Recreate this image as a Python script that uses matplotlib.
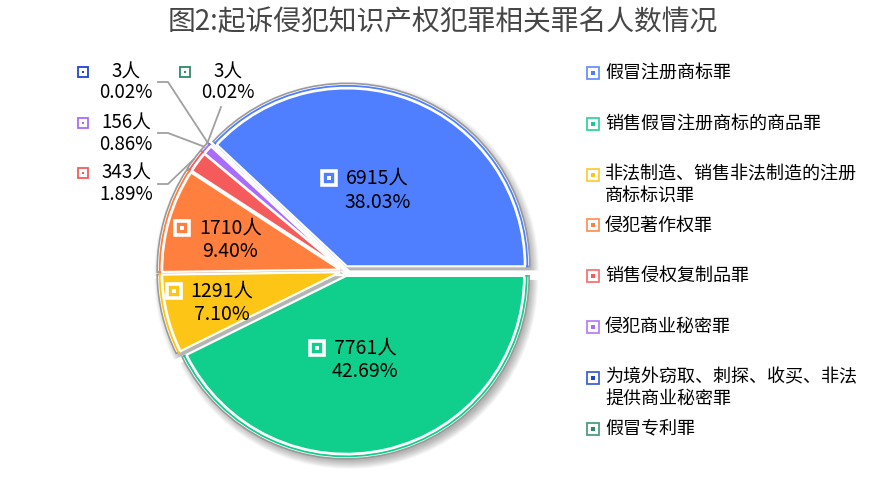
import numpy as np
import matplotlib
matplotlib.use('Agg')
import matplotlib.pyplot as plt

plt.rcParams['font.family'] = ['Noto Sans CJK SC', 'DejaVu Sans']

# data (legend order)
title = '图2:起诉侵犯知识产权犯罪相关罪名人数情况'
names = ['假冒注册商标罪',
         '销售假冒注册商标的商品罪',
         '非法制造、销售非法制造的注册\n商标标识罪',
         '侵犯著作权罪',
         '销售侵权复制品罪',
         '侵犯商业秘密罪',
         '为境外窃取、刺探、收买、非法\n提供商业秘密罪',
         '假冒专利罪']
counts = [6915, 7761, 1291, 1710, 343, 156, 3, 3]
colors = ['#4f7ffe', '#10ce8b', '#fdc516', '#ff803e',
          '#f65b5b', '#a96cfb', '#1f45cf', '#2e8b68']

# slice order, counter-clockwise from 3 o'clock
pie_order = [0, 6, 7, 5, 4, 3, 2, 1]

W, H = 875, 492
fig = plt.figure(figsize=(8.75, 4.92), dpi=100)
ax = fig.add_axes([0, 0, 1, 1])

cx, cy, R = 345, H - 271, 178
vals = [counts[i] for i in pie_order]
cols = [colors[i] for i in pie_order]
n = len(vals)
total = sum(counts)
expl = [5] * n

# soft shadow
for k in range(9):
    ax.pie(vals, radius=R + 3 + k, center=(cx + 3, cy - 4), startangle=0,
           explode=expl, colors=['black'] * n,
           wedgeprops=dict(alpha=0.035, linewidth=0))

# outer white ring with gray outline
ax.pie(vals, radius=R + 5, center=(cx, cy), startangle=0, explode=expl,
       colors=['white'] * n, wedgeprops=dict(edgecolor='#9a9a9a', linewidth=1.2))

# thin coloured outline
wedges, _ = ax.pie(vals, radius=R + 2.5, center=(cx, cy), startangle=0,
                   explode=expl, colors=['white'] * n,
                   wedgeprops=dict(linewidth=1.3))
for w, c in zip(wedges, cols):
    w.set_edgecolor(c)

# filled slices
ax.pie(vals, radius=R, center=(cx, cy), startangle=0, explode=expl,
       colors=cols, wedgeprops=dict(edgecolor='white', linewidth=1.6))

ax.set_xlim(0, W)
ax.set_ylim(0, H)
ax.set_aspect('equal')
ax.axis('off')

fig.text(443 / W, 1 - 22 / H, title, ha='center', va='center',
         fontsize=20, color='#464646')

renderer = fig.canvas.get_renderer()
theta = np.cumsum([0] + vals) / total * 2 * np.pi

# labels inside the big slices (radius fraction)
inner_r = {0: 0.5, 1: 0.5, 2: 0.71, 3: 0.67}
# labels outside the small slices: text centre, leader start points
outer = {6: dict(pos=(126, 72), lead=[(158, 82), (168, 82)]),
         7: dict(pos=(228, 72), lead=[(221, 107)]),
         5: dict(pos=(126, 123), lead=[(158, 133), (168, 133)]),
         4: dict(pos=(126, 173), lead=[(158, 184), (168, 184)])}

for j, i in enumerate(pie_order):
    mid = 0.5 * (theta[j] + theta[j + 1])
    line1 = f'{counts[i]}人'
    line2 = f'{counts[i] / total * 100:.2f}%'
    if i in inner_r:
        r = inner_r[i] * R
        lx = cx + r * np.cos(mid)
        ly = cy + r * np.sin(mid) - 2
        t = ax.text(lx, ly + 12, line1, ha='center', va='center',
                    fontsize=14, color='black')
        ax.text(lx, ly - 12, line2, ha='center', va='center',
                fontsize=14, color='black')
        w1 = t.get_window_extent(renderer).width
        ix = lx - w1 / 2 - 17
        ax.plot(ix, ly + 12, marker='s', ms=10, mfc='none', mec='white', mew=2.6)
        ax.plot(ix, ly + 12, marker='s', ms=2.5, mfc='white', mec='white', mew=0)
    else:
        tx, ty = outer[i]['pos']
        ax.text(tx, H - ty, line1, ha='center', va='center',
                fontsize=13.5, color='black')
        ax.text(tx, H - ty - 21, line2, ha='center', va='center',
                fontsize=13.5, color='black')
        ax.plot(tx - 43, H - ty, marker='s', ms=6.5, mfc='white',
                mec=colors[i], mew=1.3)
        ax.plot(tx - 43, H - ty, marker='s', ms=1.8, mfc=colors[i],
                mec=colors[i], mew=0)
        ex = cx + (R + 10) * np.cos(mid)
        ey = cy + (R + 10) * np.sin(mid)
        pts = outer[i]['lead']
        xs = [p[0] for p in pts] + [ex]
        ys = [H - p[1] for p in pts] + [ey]
        ax.plot(xs, ys, color='#a0a0a0', lw=1.3)

# legend on the right
for k, (name, c) in enumerate(zip(names, colors)):
    y = H - (73 + k * 50.8)
    ax.plot(593, y, marker='s', ms=8, mfc='white', mec=c, mew=1.3, alpha=0.85)
    ax.plot(593, y, marker='s', ms=3.2, mfc=c, mec=c, mew=0)
    for m, part in enumerate(name.split('\n')):
        ax.text(605, y - m * 21, part, ha='left', va='center',
                fontsize=13, color='black')

fig.savefig('out.png', dpi=100)
